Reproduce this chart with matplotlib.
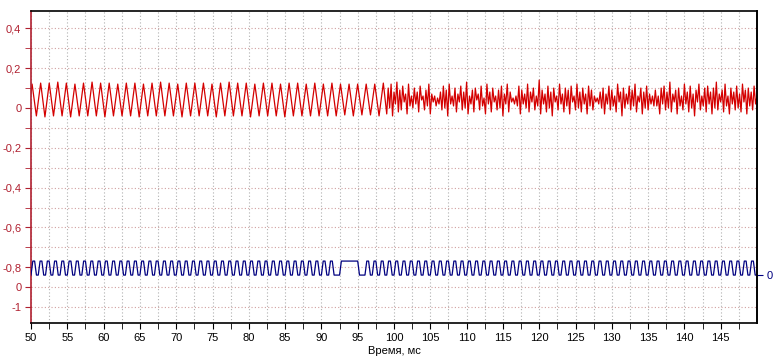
import matplotlib
matplotlib.use('Agg')
import matplotlib.pyplot as plt
import numpy as np

plt.rcParams['font.family'] = ['Liberation Sans', 'DejaVu Sans']
plt.rcParams['font.size'] = 8

# red channel, first part: peaks / troughs of the tone, one every half period
sine_start = 49.56
sine_step = 0.59
sine_v = [
    -0.04, 0.12, -0.04, 0.125, -0.045, 0.125, -0.04, 0.13, -0.04, 0.125,
    -0.045, 0.12, -0.04, 0.125, -0.04, 0.13, -0.04, 0.125, -0.045, 0.125,
    -0.04, 0.12, -0.04, 0.125, -0.04, 0.125, -0.045, 0.12, -0.04, 0.125,
    -0.04, 0.13, -0.04, 0.125, -0.04, 0.12, -0.045, 0.125, -0.04, 0.125,
    -0.04, 0.125, -0.04, 0.12, -0.045, 0.125, -0.04, 0.13, -0.04, 0.125,
    -0.04, 0.125, -0.045, 0.12, -0.04, 0.125, -0.04, 0.125, -0.04, 0.12,
    -0.045, 0.125, -0.04, 0.125, -0.04, 0.12, -0.04, 0.125, -0.04, 0.12,
    -0.04, 0.125, -0.04, 0.12, -0.035, 0.12, -0.04, 0.12, -0.035, 0.12,
    -0.035, 0.12, -0.04, 0.125,
]

# red channel, second part: noisy signal, sampled every 0.2 ms
noise_start = 99.0
noise_step = 0.2
noise_v = [
    -0.03, 0.10, 0.00, 0.12, -0.04, 0.08, 0.02, 0.13, -0.02, 0.09,
    -0.01, 0.11, 0.03, 0.07, -0.03, 0.12, 0.01, 0.06, 0.00, 0.10,
    0.02, 0.08, -0.02, 0.11, 0.04, 0.06, -0.01, 0.09, 0.01, 0.12,
    -0.03, 0.07, 0.03, 0.06, 0.01, 0.05, 0.02, 0.08, -0.01, 0.11,
    0.00, 0.09, -0.04, 0.12, 0.02, 0.06, 0.01, 0.10, -0.02, 0.07,
    0.03, 0.11, -0.01, 0.08, 0.00, 0.13, -0.03, 0.06, 0.02, 0.09,
    -0.02, 0.10, 0.04, 0.07, -0.01, 0.11, 0.01, 0.05, -0.03, 0.12,
    0.02, 0.08, -0.02, 0.10, 0.03, 0.06, -0.01, 0.09, 0.00, 0.11,
    -0.04, 0.07, 0.02, 0.12, -0.02, 0.08, 0.03, 0.05, 0.02, 0.06,
    0.01, 0.11, -0.03, 0.09, 0.02, 0.07, 0.00, 0.12, -0.02, 0.08,
    0.03, 0.10, -0.01, 0.06, 0.01, 0.14, -0.03, 0.09, 0.02, 0.07,
    -0.02, 0.11, 0.00, 0.08, -0.04, 0.10, 0.03, 0.06, -0.01, 0.12,
    0.02, 0.07, -0.02, 0.10, 0.01, 0.09, -0.03, 0.11, 0.03, 0.06,
    -0.01, 0.12, 0.00, 0.08, -0.02, 0.10, 0.02, 0.07, -0.03, 0.11,
    0.01, 0.09, -0.01, 0.06, 0.03, 0.05, 0.02, 0.08, 0.00, 0.10,
    -0.03, 0.07, 0.02, 0.11, -0.01, 0.09, 0.01, 0.06, -0.02, 0.12,
    0.03, 0.08, -0.04, 0.10, 0.00, 0.07, 0.02, 0.11, -0.01, 0.09,
    0.01, 0.12, -0.02, 0.06, 0.03, 0.10, -0.03, 0.08, 0.00, 0.11,
    -0.01, 0.07, 0.02, 0.06, 0.01, 0.09, 0.01, 0.06, -0.03, 0.10,
    0.02, 0.11, -0.01, 0.08, 0.00, 0.13, -0.02, 0.07, 0.03, 0.09,
    -0.03, 0.10, 0.01, 0.06, -0.01, 0.12, 0.02, 0.08, -0.02, 0.11,
    0.00, 0.07, -0.04, 0.09, 0.03, 0.12, -0.01, 0.06, 0.01, 0.10,
    -0.02, 0.11, 0.02, 0.08, -0.03, 0.10, 0.00, 0.13, -0.01, 0.07,
    0.03, 0.09, -0.02, 0.12, 0.01, 0.06, -0.03, 0.10, 0.02, 0.08,
    -0.01, 0.11, 0.00, 0.07, -0.02, 0.12, 0.03, 0.09, -0.03, 0.10,
    0.01, 0.08, -0.01, 0.11, 0.02, 0.06,
]

# blue channel: digital line, one level every 0.25 ms (10 ms per row)
blue_start = 50.0
blue_step = 0.25
blue_bits = (
    "0110011001100110011001100110011001100110"
    "0110011001100110011001100110011001100110"
    "0110011001100110011001100110011001100110"
    "0110011001100110011001100110011001100110"
    "0110011000011111111110000110011001100110"
    "0110011001100110011001100110011001100110"
    "0110011001100110011001100110011001100110"
    "0110011001100110011001100110011001100110"
    "0110011001100110011001100110011001100110"
    "0110011001100110011001100110011001100110"
    "0"
)

x_ticks = [50, 55, 60, 65, 70, 75, 80, 85, 90, 95, 100,
           105, 110, 115, 120, 125, 130, 135, 140, 145]
y_ticks = [0.4, 0.2, 0, -0.2, -0.4, -0.6, -0.8, -0.9, -1.0]
y_labels = ['0,4', '0,2', '0', '-0,2', '-0,4', '-0,6', '-0,8', '0', '-1']

red_t = np.concatenate([sine_start + sine_step * np.arange(len(sine_v)),
                        noise_start + noise_step * np.arange(len(noise_v))])
red_v = np.array(sine_v + noise_v)
blue_v = np.array([int(c) for c in blue_bits])
blue_t = blue_start + blue_step * np.arange(len(blue_v))

red = '#d40000'
axis_red = '#b02030'
navy = '#000080'

fig = plt.figure(figsize=(7.76, 3.58), dpi=100)
ax = fig.add_axes([31 / 776, 1 - 323 / 358, 726 / 776, 312 / 358])

ax.plot(red_t, red_v, color=red, linewidth=0.9)
ax.set_xlim(50, 150)
ax.set_ylim(-1.080, 0.487)

ax.set_xticks(x_ticks)
ax.set_xticks(np.arange(52.5, 150, 5), minor=True)
ax.set_yticks(y_ticks, y_labels)
ax.set_yticks([0.3, 0.1, -0.1, -0.3, -0.5, -0.7], minor=True)

ax.grid(which='both', axis='x', color='#b0b0b0', linestyle=(0, (1, 2)), linewidth=0.8)
ax.grid(which='both', axis='y', color='#d0a0a0', linestyle=(0, (1, 2)), linewidth=0.8)
ax.set_axisbelow(True)

ax.tick_params(axis='x', which='both', direction='out', length=4, color='black', labelcolor='black', pad=3)
ax.tick_params(axis='y', which='both', direction='out', length=4, color=axis_red, labelcolor=axis_red, pad=3)
ax.spines['left'].set_color(axis_red)
ax.spines['left'].set_linewidth(1.2)
for s in ['top', 'right', 'bottom']:
    ax.spines[s].set_color('black')
    ax.spines[s].set_linewidth(1.2)

ax.set_xlabel('Время, мс', labelpad=2)

ax2 = ax.twinx()
ax2.plot(blue_t, blue_v, color=navy, linewidth=0.9)
ax2.set_ylim(-3.42, 18.85)
ax2.set_yticks([0], ['0'])
ax2.tick_params(axis='y', direction='out', length=4, color=navy, labelcolor=navy, pad=3)
ax2.spines['left'].set_visible(False)
ax2.spines['top'].set_visible(False)
ax2.spines['bottom'].set_visible(False)
ax2.spines['right'].set_color('black')
ax2.spines['right'].set_linewidth(1.2)

fig.savefig('out.png', dpi=100)
